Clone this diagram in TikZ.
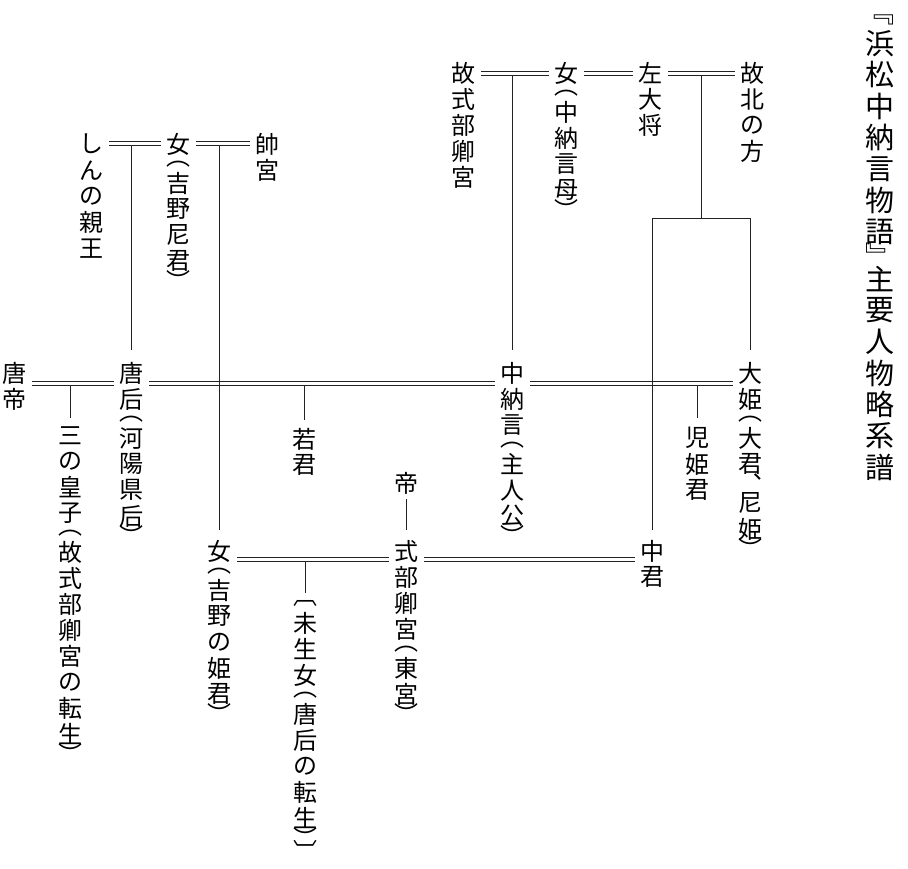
\documentclass[tikz,border=0pt]{standalone}
\usepackage{fontspec}
\newfontfamily\jp{Noto Sans CJK JP}
\definecolor{ink}{HTML}{222222}

% vertical (tate) text: one cell per character, brackets take half a cell
\newdimen\tatep \tatep=26pt
\def\tateend{}
\newcommand\tatecell[2]{\vbox to #1\tatep{\vss\hbox to \tatep{\hss#2\hss}\vss}}
\makeatletter
\def\tatescan#1{\ifx\tateend#1\else
  \in@{#1}{︵︶︹︺﹃﹄︑}%
  \ifin@\tatecell{.5}{#1}\else\tatecell{1}{#1}\fi
  \expandafter\tatescan\fi}
\makeatother
\newcommand\tate[1]{\vbox{\offinterlineskip\tatescan#1\tateend}}

\begin{document}
\begin{tikzpicture}[x=1pt,y=-1pt,
  person/.style={anchor=north,inner sep=0pt,font=\jp\fontsize{24pt}{26pt}\selectfont},
  wline/.style={draw=ink,line width=.7pt,shorten <=4.5pt,shorten >=4.5pt},
  marriage/.style={postaction={wline,transform canvas={yshift=2pt}},
                   postaction={wline,transform canvas={yshift=-2pt}}},
  desc/.style={draw=ink,line width=.7pt,shorten <=2pt,shorten >=7pt}]
\useasboundingbox (0,0) rectangle (908,869);

% title
\node[person,font=\jp\fontsize{29pt}{31pt}\selectfont] (title) at (880,12)
  {\tatep=31.4pt\tate{﹃浜松中納言物語﹄主要人物略系譜}};

% top row
\node[person] (kosiki) at (463.5,60) {\tate{故式部卿宮}};
\node[person] (haha) at (566.5,60) {\tate{女︵中納言母︶}};
\node[person] (sadaisho) at (650.5,60) {\tate{左大将}};
\node[person] (kita) at (752.5,60) {\tate{故北の方}};

% left row
\node[person] (shin) at (91.5,131) {\tate{しんの親王}};
\node[person] (amagimi) at (178.5,131) {\tate{女︵吉野尼君︶}};
\node[person] (sochi) at (267.5,131) {\tate{帥宮}};

% main row
\node[person] (karatei) at (14.5,360) {\tate{唐帝}};
\node[person] (kogo) at (131.5,360) {\tate{唐后︵河陽県后︶}};
\node[person] (chunagon) at (512.5,360) {\tate{中納言︵主人公︶}};
\node[person] (ooi) at (750.5,360) {\tate{大姫︵大君︑尼姫︶}};

% children
\node[person] (sannomiko) at (70.5,422) {\tate{三の皇子︵故式部卿宮の転生︶}};
\node[person] (wakagimi) at (304.5,426) {\tate{若君}};
\node[person] (chigimi) at (697.5,425) {\tate{児姫君}};
\node[person] (mikado) at (406.5,470) {\tate{帝}};

% lower row
\node[person] (himegimi) at (219.5,538) {\tate{女︵吉野の姫君︶}};
\node[person] (shikibu) at (406.5,538) {\tate{式部卿宮︵東宮︶}};
\node[person] (nakanokimi) at (652.5,538) {\tate{中君}};
\node[person] (mishou) at (305.5,597) {\tate{︹未生女︵唐后の転生︶︺}};

% marriages
\path[marriage] ([yshift=-13.5pt]kosiki.north east) -- coordinate[pos=.5] (m1) ([yshift=-13.5pt]haha.north west);
\path[marriage] ([yshift=-13.5pt]haha.north east) -- ([yshift=-13.5pt]sadaisho.north west);
\path[marriage] ([yshift=-13.5pt]sadaisho.north east) -- coordinate[pos=.5] (m2) ([yshift=-13.5pt]kita.north west);
\path[marriage] ([yshift=-12.5pt]shin.north east) -- coordinate[pos=.5] (m3) ([yshift=-12.5pt]amagimi.north west);
\path[marriage] ([yshift=-12.5pt]amagimi.north east) -- coordinate[pos=.5] (m4) ([yshift=-12.5pt]sochi.north west);
\path[marriage] ([yshift=-23.5pt]karatei.north east) -- coordinate[pos=.5] (m5) ([yshift=-23.5pt]kogo.north west);
\path[marriage] ([yshift=-23.5pt]kogo.north east) -- coordinate[pos=.5] (m6) ([yshift=-23.5pt]chunagon.north west);
\path[marriage] ([yshift=-23.5pt]chunagon.north east) -- coordinate[pos=.5] (m7) ([yshift=-23.5pt]ooi.north west);
\path[marriage] ([yshift=-21.5pt]himegimi.north east) -- coordinate[pos=.5] (m8) ([yshift=-21.5pt]shikibu.north west);
\path[marriage] ([yshift=-21.5pt]shikibu.north east) -- ([yshift=-21.5pt]nakanokimi.north west);

% descent
\draw[desc,shorten >=10pt] (chunagon.north |- m1) -- (chunagon.north);
\draw[desc,shorten >=10pt] (kogo.north |- m3) -- (kogo.north);
\draw[desc,shorten >=8pt] (himegimi.north |- m4) -- (himegimi.north);
\draw[desc,shorten >=4pt] (sannomiko.north |- m5) -- (sannomiko.north);
\draw[desc,shorten >=6pt] (wakagimi.north |- m6) -- (wakagimi.north);
\draw[desc] (chigimi.north |- m7) -- (chigimi.north);
\draw[desc,shorten >=4pt] (mishou.north |- m8) -- (mishou.north);
\draw[desc,shorten <=3pt,shorten >=8pt] (mikado.south) -- (shikibu.north);
\coordinate (sib) at (m2 |- 0,218.5);
\draw[desc,shorten >=0pt] (m2) -- (sib);
\draw[desc,shorten <=8pt,shorten >=10pt] (nakanokimi.north) -- (nakanokimi.north |- sib)
  -- (ooi.north |- sib) -- (ooi.north);
\end{tikzpicture}
\end{document}
